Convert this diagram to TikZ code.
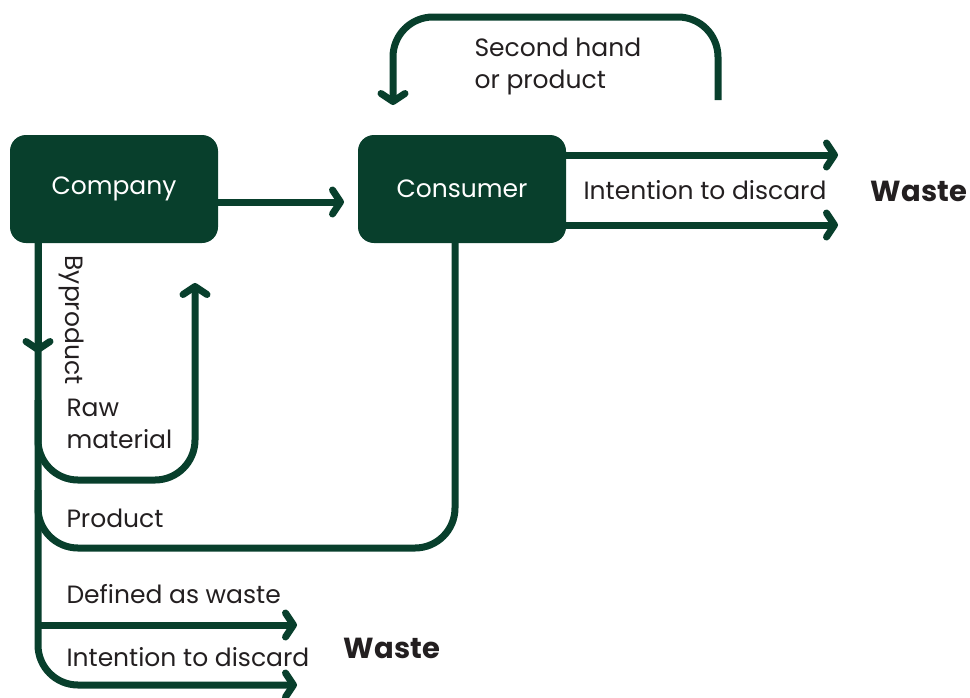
\documentclass[tikz,border=0pt]{standalone}
\usepackage{fontspec}
\setmainfont{Poppins}
\usepackage{tikz}
\usetikzlibrary{arrows.meta,positioning}
\definecolor{darkgreen}{RGB}{8,63,44}
\definecolor{textgray}{RGB}{35,31,32}

\begin{document}
\begin{tikzpicture}[x=1pt,y=-1pt,->,>={Straight Barb[round,length=8pt,width=24pt]},
		line width=7pt,darkgreen,
		main node/.style={rectangle,fill=darkgreen,outer sep=0pt,rounded corners=16pt,minimum width=208pt,minimum height=108pt,text=white,font=\fontsize{25}{29}\selectfont},
		text node/.style={rectangle,text=textgray,inner sep=0pt,align=left,font=\fontsize{25}{32}\selectfont},
		waste node/.style={text node,font=\fontsize{29}{32}\selectfont\bfseries}]
		
		\useasboundingbox (0,0) rectangle (970,697);
		
		\node[main node] (a) at (114,189) {Company};
		\node[main node] (b) [right=140pt of a] {Consumer};
		
		% second hand loop
		\coordinate (c) at (718,100);
		\draw[rounded corners=40pt] (c) |- ([xshift=-69pt,yshift=118pt]b.north) -- ([xshift=-69pt,yshift=30pt]b.north);
		\node[text node,anchor=west] at (471,66) {Second hand\\or product};
		
		\draw ([yshift=-13pt]a.east) -- ([xshift=-14pt,yshift=-13pt]b.west);
		
		% consumer to waste
		\draw ([yshift=34pt]b.east) -- ++(272,0);
		\draw ([yshift=-36pt]b.east) -- ++(272,0);
		\node[text node] (d) at (705,190) {Intention to discard};
		\node[waste node] (e) at (919,191) {Waste};
		
		% company side
		\coordinate (f) at (297,685);
		\draw ([xshift=-76pt]a.south) -- ++(0,110);
		\draw[rounded corners=40pt] ([xshift=-76pt]a.south) |- (f);
		\node[text node,rotate=-90] at (71,320) {Byproduct};
		
		\coordinate (g) at (38,400);
		\draw[rounded corners=40pt] (g) |- (195,480) -- ([xshift=81pt,yshift=-40pt]a.south);
		\node[text node,anchor=west] at (63,424) {Raw\\material};
		
		\coordinate (h) at (38,490);
		\draw[-,rounded corners=40pt] ([xshift=-7pt]b.south) |- (38,548) -- (h);
		\node[text node,anchor=west] at (63,518) {Product};
		
		\coordinate (i) at (38,625);
		\coordinate (j) at (297,625);
		\draw (i) -- (j);
		\node[text node,anchor=west] at (63,594) {Defined as waste};
		\node[text node,anchor=west] at (63,657) {Intention to discard};
		\node[waste node] at (392,648) {Waste};
		
\end{tikzpicture}
\end{document}
